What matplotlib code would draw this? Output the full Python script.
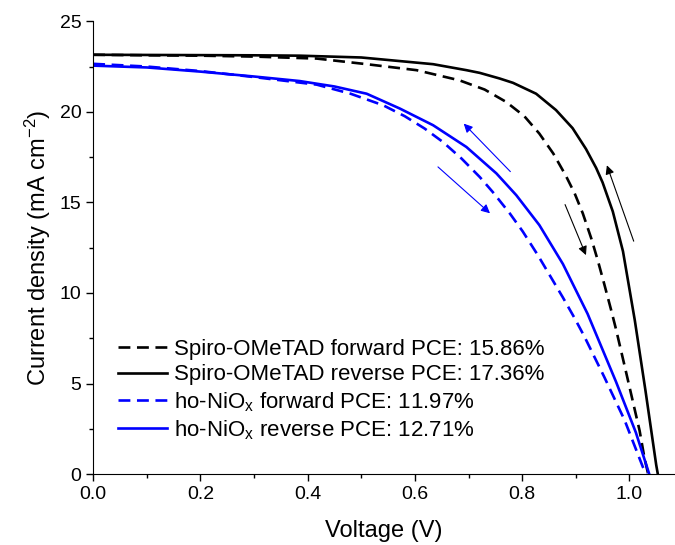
import matplotlib
matplotlib.use("Agg")
import matplotlib.pyplot as plt

plt.rcParams['font.family'] = ['Liberation Sans', 'DejaVu Sans']
plt.rcParams['mathtext.fontset'] = 'custom'
plt.rcParams['mathtext.rm'] = 'Liberation Sans'
plt.rcParams['mathtext.it'] = 'Liberation Sans'

# Spiro-OMeTAD forward scan
spiro_fwd_v = [0, 0.1, 0.2, 0.3, 0.417, 0.51, 0.603, 0.683, 0.730, 0.770, 0.804, 0.832, 0.858,
               0.881, 0.898, 0.913, 0.929, 0.941, 0.953, 0.966, 0.975, 0.994, 1.019, 1.028, 1.035]
spiro_fwd_j = [23.15, 23.12, 23.1, 23.05, 22.94, 22.63, 22.3, 21.74, 21.23, 20.55, 19.76, 18.8, 17.7,
               16.5, 15.49, 14.4, 13.0, 11.8, 10.5, 9.05, 8.0, 5.6, 2.4, 0.9, 0]

# Spiro-OMeTAD reverse scan
spiro_rev_v = [0, 0.1, 0.2, 0.3, 0.385, 0.5, 0.634, 0.696, 0.721, 0.758, 0.783, 0.826, 0.863,
               0.894, 0.919, 0.938, 0.950, 0.969, 0.988, 1.010, 1.030, 1.050, 1.053]
spiro_rev_j = [23.15, 23.14, 23.13, 23.12, 23.1, 23.0, 22.63, 22.3, 22.15, 21.84, 21.6, 21.0, 20.1,
               19.1, 17.95, 16.9, 16.1, 14.5, 12.3, 8.5, 4.6, 0.5, 0]

# ho-NiOx forward scan
nio_fwd_v = [0, 0.1, 0.2, 0.3, 0.417, 0.48, 0.541, 0.581, 0.618, 0.652, 0.687, 0.721, 0.745, 0.777,
             0.801, 0.829, 0.851, 0.876, 0.898, 0.916, 0.953, 0.991, 1.025, 1.032]
nio_fwd_j = [22.65, 22.5, 22.25, 21.92, 21.5, 21.0, 20.36, 19.76, 19.08, 18.34, 17.42, 16.4, 15.58, 14.39,
             13.4, 12.1, 11.0, 9.75, 8.6, 7.6, 5.37, 2.98, 0.4, 0]

# ho-NiOx reverse scan
nio_rev_v = [0, 0.1, 0.2, 0.3, 0.385, 0.45, 0.51, 0.572, 0.634, 0.696, 0.752, 0.789, 0.832, 0.876,
             0.922, 0.975, 1.012, 1.037]
nio_rev_j = [22.55, 22.45, 22.22, 21.95, 21.7, 21.4, 21.0, 20.18, 19.26, 18.06, 16.6, 15.4, 13.75, 11.6,
             8.85, 5.1, 2.3, 0]

labels = ['Spiro-OMeTAD forward PCE: 15.86%',
          'Spiro-OMeTAD reverse PCE: 17.36%',
          'ho-NiO$_\\mathregular{x}$ forward PCE: 11.97%',
          'ho-NiO$_\\mathregular{x}$ reverse PCE: 12.71%']

# scan-direction arrows: (start, end)
arrows = [((0.778, 16.7), (0.691, 19.35), 'blue'),
          ((0.643, 16.96), (0.740, 14.4), 'blue'),
          ((0.880, 14.88), (0.919, 12.09), 'black'),
          ((1.008, 12.86), (0.958, 17.05), 'black')]

fig = plt.figure(figsize=(6.75, 5.45), dpi=100)
ax = fig.add_axes([0.138, 0.130, 0.862, 0.831])

lw = 1.9
ax.plot(spiro_fwd_v, spiro_fwd_j, color='black', lw=lw, dashes=(4.5, 2.5), label=labels[0])
ax.plot(spiro_rev_v, spiro_rev_j, color='black', lw=lw, label=labels[1])
ax.plot(nio_fwd_v, nio_fwd_j, color='blue', lw=lw, dashes=(4.5, 2.5), label=labels[2])
ax.plot(nio_rev_v, nio_rev_j, color='blue', lw=lw, label=labels[3])

for start, end, c in arrows:
    ax.annotate('', xy=end, xytext=start,
                arrowprops=dict(arrowstyle='-|>', color=c, lw=0.8, mutation_scale=13,
                                shrinkA=0, shrinkB=0))

ax.set_xlim(0, 1.085)
ax.set_ylim(0, 25)
ax.set_xticks([0, 0.2, 0.4, 0.6, 0.8, 1.0])
ax.set_xticks([0.1, 0.3, 0.5, 0.7, 0.9], minor=True)
ax.set_yticks([0, 5, 10, 15, 20, 25])
ax.set_yticks([2.5, 7.5, 12.5, 17.5, 22.5], minor=True)
ax.set_xticklabels(['0.0', '0.2', '0.4', '0.6', '0.8', '1.0'])
ax.tick_params(which='major', direction='out', length=5, width=1, labelsize=14)
ax.tick_params(which='minor', direction='out', length=3, width=1)
ax.spines['top'].set_visible(False)
ax.spines['right'].set_visible(False)

ax.set_xlabel('Voltage (V)', fontsize=17, labelpad=12)
ax.set_ylabel('Current density (mA cm$^{-2}$)', fontsize=17, labelpad=5)

ax.legend(loc='upper left', bbox_to_anchor=(0.027, 0.318), frameon=False, fontsize=16,
          handlelength=2.2, handletextpad=0.35, labelspacing=0.2, borderaxespad=0)

fig.savefig('out.png', dpi=100)
